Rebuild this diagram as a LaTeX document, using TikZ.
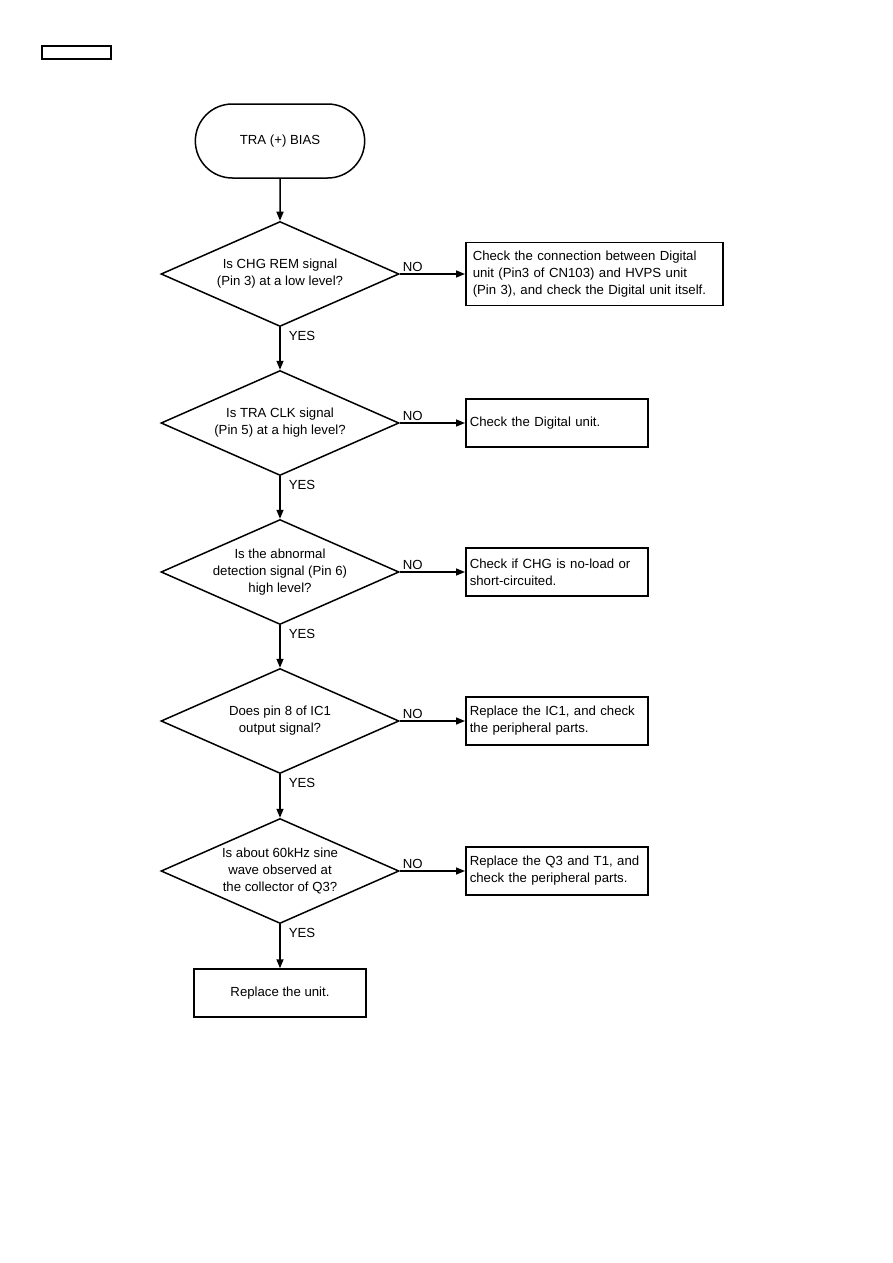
\documentclass[tikz,border=0pt]{standalone}
\usepackage{fontspec}
\setmainfont{Liberation Sans}
\usetikzlibrary{arrows.meta, shapes.geometric, shapes.misc}

\begin{document}
\begin{tikzpicture}[x=1pt, y=-1pt, >={Triangle[length=9pt,width=7pt]},
      font=\fontsize{13.2}{17}\selectfont,
      start/.style={draw, line width=1.5pt, rounded rectangle, minimum width=176pt, minimum height=74pt},
      check/.style={draw, line width=1.5pt, diamond, minimum width=238pt, minimum height=105pt, inner sep=0pt,
        label={[align=center]center:#1}},
      act/.style={draw, line width=1.5pt, align=left, text width=#1, inner xsep=4pt, minimum height=48pt, anchor=west},
      fin/.style={draw, line width=1.5pt, minimum width=172pt, minimum height=48pt},
      arr/.style={->, line width=1.5pt},
      ans/.style={inner sep=2pt},
      yes/.style={pos=0.2, right, inner sep=2pt, xshift=6pt}]
    \useasboundingbox (0,0) rectangle (893,1263);
    \node[draw, line width=1.2pt, minimum width=69pt, minimum height=13pt, inner sep=0pt] (tag) at (76.5,52.5) {};
    \node[start] (s) at (280,141) {TRA (+) BIAS};
    \node[check={Is CHG REM signal\\(Pin 3) at a low level?}] (q1) at (280,274) {};
    \node[check={Is TRA CLK signal\\(Pin 5) at a high level?}] (q2) at (280,423) {};
    \node[check={Is the abnormal\\detection signal (Pin 6)\\high level?}] (q3) at (280,572) {};
    \node[check={Does pin 8 of IC1\\output signal?}] (q4) at (280,721) {};
    \node[check={Is about 60kHz sine\\wave observed at\\the collector of Q3?}] (q5) at (280,871) {};
    \node[fin] (u) at (280,993) {Replace the unit.};
    \node[act=243pt, minimum height=63pt, inner xsep=7pt] (a1) at (465,274) {Check the connection between Digital\\unit (Pin3 of CN103) and HVPS unit\\(Pin 3), and check the Digital unit itself.};
    \node[act=174pt] (a2) at (465,423) {Check the Digital unit.};
    \node[act=174pt] (a3) at (465,572) {Check if CHG is no-load or\\short-circuited.};
    \node[act=174pt] (a4) at (465,721) {Replace the IC1, and check\\the peripheral parts.};
    \node[act=174pt] (a5) at (465,871) {Replace the Q3 and T1, and\\check the peripheral parts.};
    \draw[arr] (s) -- (q1);
    \draw[arr] (q1.south) -- node[yes]{YES} (q2.north);
    \draw[arr] (q2.south) -- node[yes]{YES} (q3.north);
    \draw[arr] (q3.south) -- node[yes]{YES} (q4.north);
    \draw[arr] (q4.south) -- node[yes]{YES} (q5.north);
    \draw[arr] (q5.south) -- node[yes]{YES} (u.north);
    \draw[arr] (q1.east) -- node[pos=0.2, above, ans]{NO} (a1.west);
    \draw[arr] (q2.east) -- node[pos=0.2, above, ans]{NO} (a2.west);
    \draw[arr] (q3.east) -- node[pos=0.2, above, ans]{NO} (a3.west);
    \draw[arr] (q4.east) -- node[pos=0.2, above, ans]{NO} (a4.west);
    \draw[arr] (q5.east) -- node[pos=0.2, above, ans]{NO} (a5.west);
\end{tikzpicture}
\end{document}
